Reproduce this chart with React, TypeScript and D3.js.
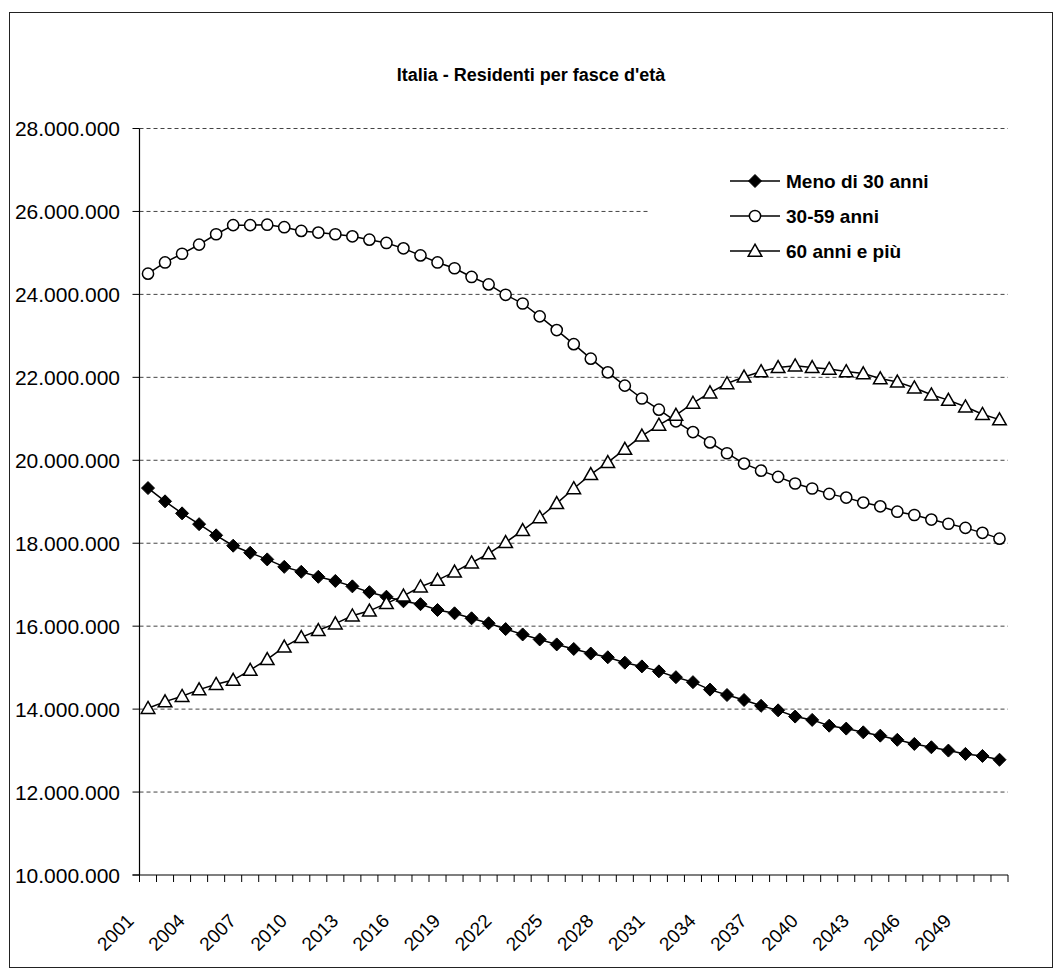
import React from "react";
import * as d3 from "d3";

const years: number[] = Array.from({ length: 51 }, (_, i) => 2001 + i);

// values in millions of residents
const menoDi30: number[] = [
  19.33, 19.01, 18.72, 18.46, 18.19, 17.94, 17.77, 17.61, 17.43, 17.31,
  17.19, 17.09, 16.96, 16.82, 16.71, 16.6, 16.53, 16.39, 16.31, 16.19,
  16.07, 15.93, 15.8, 15.68, 15.56, 15.45, 15.34, 15.25, 15.12, 15.03,
  14.91, 14.77, 14.65, 14.47, 14.34, 14.22, 14.08, 13.97, 13.82, 13.74,
  13.6, 13.53, 13.44, 13.36, 13.26, 13.16, 13.08, 13.0, 12.92, 12.87, 12.78,
];
const da30a59: number[] = [
  24.5, 24.77, 24.98, 25.2, 25.45, 25.67, 25.67, 25.68, 25.62, 25.53,
  25.49, 25.45, 25.4, 25.32, 25.24, 25.11, 24.94, 24.77, 24.63, 24.42,
  24.24, 23.99, 23.78, 23.47, 23.14, 22.8, 22.45, 22.12, 21.8, 21.49,
  21.22, 20.94, 20.68, 20.43, 20.17, 19.92, 19.75, 19.6, 19.44, 19.32,
  19.19, 19.1, 18.98, 18.89, 18.76, 18.68, 18.57, 18.47, 18.37, 18.25, 18.11,
];
const over60: number[] = [
  14.02, 14.18, 14.31, 14.47, 14.6, 14.7, 14.94, 15.2, 15.5, 15.73,
  15.9, 16.06, 16.25, 16.37, 16.55, 16.73, 16.95, 17.11, 17.31, 17.53,
  17.75, 18.02, 18.31, 18.62, 18.96, 19.32, 19.66, 19.95, 20.27, 20.59,
  20.85, 21.09, 21.38, 21.63, 21.85, 22.01, 22.14, 22.24, 22.28, 22.24,
  22.2, 22.14, 22.09, 21.97, 21.89, 21.75, 21.58, 21.45, 21.29, 21.11, 20.98,
];

const yTicks: number[] = [10, 12, 14, 16, 18, 20, 22, 24, 26, 28];
const xLabelYears: number[] = years.filter((_, i) => i % 3 === 0 && i < 50);

const title = "Italia - Residenti per fasce d'età";
const seriesNames = ["Meno di 30 anni", "30-59 anni", "60 anni e più"];

const itFormat = d3.formatLocale({
  decimal: ",",
  thousands: ".",
  grouping: [3],
  currency: ["€", ""],
}).format(",");

const FONT = "'Liberation Sans', Arial, sans-serif";

function Marker({ kind, x, y }: { kind: string; x: number; y: number }) {
  if (kind === "diamond") {
    return <path d="M0,-6.5L6.5,0L0,6.5L-6.5,0Z" transform={`translate(${x},${y})`} fill="#000" stroke="#000" strokeWidth={1} />;
  }
  if (kind === "circle") {
    return <circle cx={x} cy={y} r={5.6} fill="#fff" stroke="#000" strokeWidth={1.5} />;
  }
  return <path d="M0,-6.8L6.8,5.2L-6.8,5.2Z" transform={`translate(${x},${y})`} fill="#fff" stroke="#000" strokeWidth={1.5} strokeLinejoin="miter" />;
}

export default function App() {
  const W = 1062, H = 976;
  const left = 139.5, right = 1008, top = 128.5, bottom = 875;

  const x = d3.scaleBand<number>().domain(years).range([left, right]).padding(0);
  const bw = x.bandwidth();
  const cx = (yr: number) => (x(yr) as number) + bw / 2;
  const y = d3.scaleLinear().domain([10, 28]).range([bottom, top]);

  const line = d3.line<number>().x((_, i) => cx(years[i])).y((v) => y(v));

  const series = [
    { name: seriesNames[0], data: menoDi30, kind: "diamond" },
    { name: seriesNames[1], data: da30a59, kind: "circle" },
    { name: seriesNames[2], data: over60, kind: "triangle" },
  ];

  const tickXs = [...years.map((yr) => x(yr) as number), right];

  return (
    <svg width={W} height={H} style={{ position: "absolute", left: 0, top: 0, background: "#fff" }} fontFamily={FONT}>
      <rect x={0} y={0} width={W} height={H} fill="#fff" />
      <rect x={9.5} y={12.5} width={1043} height={955} fill="none" stroke="#222" strokeWidth={1} />
      <text x={531} y={81} textAnchor="middle" fontSize={18} fontWeight="bold" fill="#000">{title}</text>

      {/* gridlines */}
      {yTicks.filter((t) => t > 10).map((t) => (
        <line key={t} x1={left} x2={right} y1={y(t)} y2={y(t)} stroke="#444" strokeWidth={1} strokeDasharray="4,3" />
      ))}

      {/* legend box (white, covers gridline) */}
      <rect x={648} y={150} width={right - 648} height={125} fill="#fff" />

      {/* axes */}
      <line x1={left} x2={left} y1={top} y2={bottom} stroke="#000" strokeWidth={1.2} />
      <line x1={left - 7} x2={right} y1={bottom} y2={bottom} stroke="#000" strokeWidth={1.2} />
      {yTicks.map((t) => (
        <g key={t}>
          <line x1={left - 7} x2={left} y1={y(t)} y2={y(t)} stroke="#000" strokeWidth={1} />
          <text x={120} y={y(t)} dy="0.36em" textAnchor="end" fontSize={21} fill="#000">{itFormat(t * 1e6)}</text>
        </g>
      ))}
      {tickXs.map((tx, i) => (
        <line key={i} x1={tx} x2={tx} y1={bottom} y2={bottom + 7} stroke="#000" strokeWidth={1} />
      ))}
      {xLabelYears.map((yr) => (
        <text key={yr} transform={`translate(${cx(yr) - 13},${bottom + 47}) rotate(-45)`} textAnchor="end" fontSize={19} fill="#000">{yr}</text>
      ))}

      {/* series */}
      {series.map((s) => (
        <g key={s.name}>
          <path d={line(s.data) || ""} fill="none" stroke="#000" strokeWidth={1.5} />
          {s.data.map((v, i) => (
            <Marker key={i} kind={s.kind} x={cx(years[i])} y={y(v)} />
          ))}
        </g>
      ))}

      {/* legend */}
      {series.map((s, i) => {
        const ly = 181 + i * 35;
        return (
          <g key={s.name}>
            <line x1={730} x2={780} y1={ly} y2={ly} stroke="#000" strokeWidth={1.5} />
            <Marker kind={s.kind} x={755} y={ly} />
            <text x={786} y={ly} dy="0.36em" fontSize={19} fontWeight="bold" fill="#000">{s.name}</text>
          </g>
        );
      })}
    </svg>
  );
}
